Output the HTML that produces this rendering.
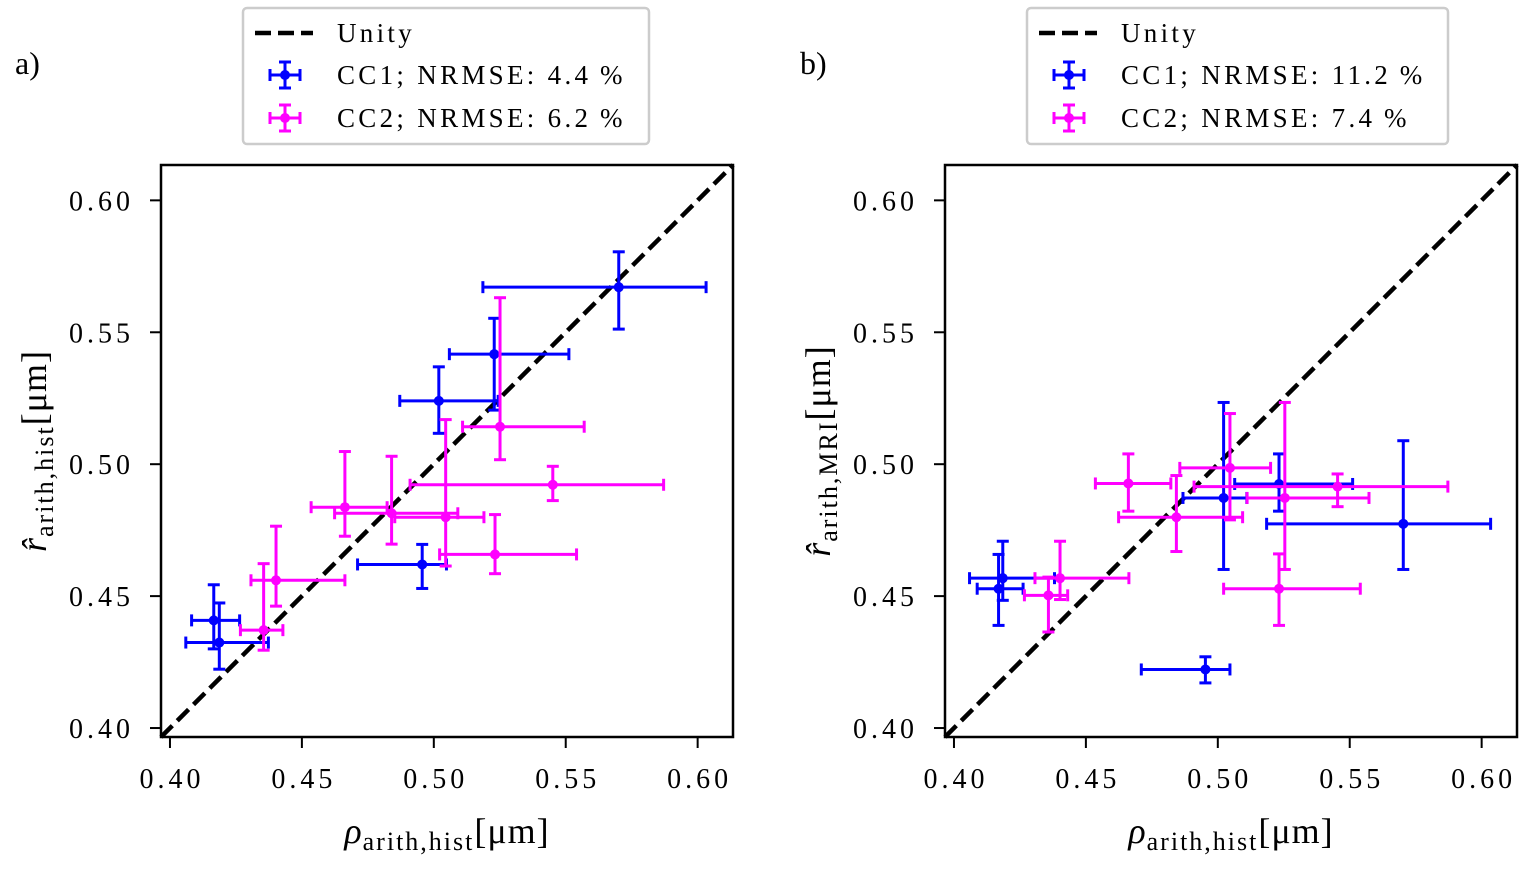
<!DOCTYPE html>
<html><head><meta charset="utf-8"><style>
body{margin:0;background:#fff;}
svg text{font-family:"Liberation Serif","DejaVu Serif",serif;fill:#000;}
</style></head><body>
<svg id="chart" width="1525" height="864" xmlns="http://www.w3.org/2000/svg"></svg>
<script>
// Panel a data: [x, y, xlo, xhi, ylo, yhi]
const aCC1 = [[0.5701,0.5671,0.5186,0.6032,0.5512,0.5805],[0.5229,0.5417,0.5059,0.5512,0.5205,0.5553],[0.5019,0.5240,0.4871,0.5244,0.5117,0.5369],[0.4956,0.4620,0.4711,0.5048,0.4529,0.4696],[0.4166,0.4408,0.4082,0.4264,0.4300,0.4543],[0.4187,0.4324,0.4060,0.4373,0.4223,0.4474]];
const aCC2 = [[0.5251,0.5142,0.5109,0.5570,0.5017,0.5631],[0.5451,0.4922,0.4910,0.5871,0.4862,0.4992],[0.4663,0.4837,0.4535,0.4823,0.4727,0.5048],[0.4840,0.4814,0.4624,0.5091,0.4697,0.5030],[0.5045,0.4799,0.4852,0.5190,0.4614,0.5169],[0.5232,0.4658,0.5022,0.5541,0.4585,0.4809],[0.4402,0.4560,0.4307,0.4663,0.4462,0.4765],[0.4355,0.4371,0.4267,0.4428,0.4295,0.4623]];
// Panel b data
const bCC1 = [[0.5022,0.4872,0.4868,0.5110,0.4601,0.5234],[0.5232,0.4925,0.5064,0.5511,0.4822,0.5039],[0.5703,0.4774,0.5185,0.6034,0.4601,0.5089],[0.4953,0.4222,0.4710,0.5046,0.4171,0.4270],[0.4185,0.4568,0.4059,0.4381,0.4484,0.4708],[0.4169,0.4528,0.4088,0.4262,0.4389,0.4658]];
const bCC2 = [[0.5046,0.4986,0.4856,0.5200,0.4789,0.5192],[0.4661,0.4927,0.4536,0.4822,0.4822,0.5039],[0.4843,0.4799,0.4624,0.5094,0.4669,0.4957],[0.5254,0.4872,0.5111,0.5573,0.4601,0.5234],[0.5454,0.4915,0.4910,0.5872,0.4839,0.4963],[0.5232,0.4528,0.5022,0.5540,0.4389,0.4660],[0.4402,0.4568,0.4307,0.4663,0.4487,0.4708],[0.4358,0.4503,0.4267,0.4431,0.4364,0.4572]];
const ticks = [0.40,0.45,0.50,0.55,0.60];
const tickLabels = ["0.40","0.45","0.50","0.55","0.60"];
const legA = ["Unity","CC1; NRMSE: 4.4\u2009%","CC2; NRMSE: 6.2\u2009%"];
const legB = ["Unity","CC1; NRMSE: 11.2\u2009%","CC2; NRMSE: 7.4\u2009%"];

const NS="http://www.w3.org/2000/svg";
const svg=document.getElementById('chart');
function mk(tag,attrs,parent){const e=document.createElementNS(NS,tag);for(const k in attrs)e.setAttribute(k,attrs[k]);(parent||svg).appendChild(e);return e;}
const VMIN=0.3966,VMAX=0.6134,SIZE=572,TOP=165;

function panel(ox,c1,c2,leg,letter,ylab,lx){
  const g=mk('g',{});
  
  
  const X=v=>ox+(v-VMIN)/(VMAX-VMIN)*SIZE;
  const Y=v=>TOP+SIZE-(v-VMIN)/(VMAX-VMIN)*SIZE;
  ticks.forEach((t,i)=>{
    const tx=mk('line',{x1:X(t),x2:X(t),y1:TOP+SIZE,y2:TOP+SIZE+11,stroke:'#000','stroke-width':2},g);
    
    
    const xl=mk('text',{x:X(t)+2,y:TOP+SIZE+51,'font-size':28,'letter-spacing':4,'text-anchor':'middle'},g);xl.textContent=tickLabels[i];
    
    
    const ty=mk('line',{x1:ox-11,x2:ox,y1:Y(t),y2:Y(t),stroke:'#000','stroke-width':2},g);
    
    
    const yl=mk('text',{x:ox-27,y:Y(t)+10,'font-size':28,'letter-spacing':4,'text-anchor':'end'},g);yl.textContent=tickLabels[i];
    
    
  });
  const u=mk('line',{x1:X(VMIN),y1:Y(VMIN),x2:X(VMAX),y2:Y(VMAX),stroke:'#000','stroke-width':4.5,'stroke-dasharray':'16,7'},g);
  
  
  function series(data,col,name){
    data.forEach(d=>{
      const s=mk('g',{stroke:col,'stroke-width':3,fill:col},g);
      
      
      const cx=X(d[0]),cy=Y(d[1]),x0=X(d[2]),x1=X(d[3]),y0=Y(d[4]),y1=Y(d[5]);
      mk('line',{x1:x0,x2:x1,y1:cy,y2:cy},s);
      mk('line',{x1:cx,x2:cx,y1:y0,y2:y1},s);
      [x0,x1].forEach(xx=>mk('line',{x1:xx,x2:xx,y1:cy-6,y2:cy+6},s));
      [y0,y1].forEach(yy=>mk('line',{x1:cx-6,x2:cx+6,y1:yy,y2:yy},s));
      mk('circle',{cx:cx,cy:cy,r:5,stroke:'none'},s);
    });
  }
  series(c1,'#0000ff','cc1');
  series(c2,'#ff00ff','cc2');
  const fr=mk('rect',{x:ox,y:TOP,width:SIZE,height:SIZE,fill:'none',stroke:'#000','stroke-width':2.5},g);
  
  
  const xt=mk('text',{x:ox+SIZE/2,y:843,'font-size':36,'letter-spacing':1,'text-anchor':'middle'},g);
  xt.innerHTML='<tspan font-style="italic">ρ</tspan><tspan font-size="26" dy="7" letter-spacing="2">arith,hist</tspan><tspan dy="-7">[μm]</tspan>';
  
  
  const yt=mk('text',{x:0,y:0,'font-size':36,'letter-spacing':1,'text-anchor':'middle',transform:`translate(${ox-115},${TOP+SIZE/2}) rotate(-90)`},g);
  yt.innerHTML='<tspan font-style="italic">r̂</tspan><tspan font-size="26" dy="7" letter-spacing="2">'+ylab+'</tspan><tspan dy="-7">[μm]</tspan>';
  
  
  const pl=mk('text',{x:lx,y:74,'font-size':32},g);pl.textContent=letter+')';
  
  
  const lg=mk('g',{},g);
  
  
  const bx=ox+82,bw=(letter==='a')?406:421;
  mk('rect',{x:bx,y:8,width:bw,height:136,rx:4,fill:'#fff',stroke:'#ccc','stroke-width':2.5},lg);
  const rows=[33,75,118];
  rows.forEach((ry,i)=>{
    const e=mk('g',{},lg);
    
    
    if(i===0){mk('line',{x1:bx+12,x2:bx+70,y1:ry,y2:ry,stroke:'#000','stroke-width':4.5,'stroke-dasharray':'16,7'},e);}
    else{const col=i===1?'#0000ff':'#ff00ff';const cx=bx+42;
      mk('line',{x1:cx-15,x2:cx+15,y1:ry,y2:ry,stroke:col,'stroke-width':3},e);
      mk('line',{x1:cx,x2:cx,y1:ry-13,y2:ry+13,stroke:col,'stroke-width':3},e);
      [cx-15,cx+15].forEach(xx=>mk('line',{x1:xx,x2:xx,y1:ry-6,y2:ry+6,stroke:col,'stroke-width':3},e));
      [ry-13,ry+13].forEach(yy=>mk('line',{x1:cx-6,x2:cx+6,y1:yy,y2:yy,stroke:col,'stroke-width':3},e));
      mk('circle',{cx:cx,cy:ry,r:5,fill:col},e);}
    const t=mk('text',{x:bx+94,y:ry+9,'font-size':27,'letter-spacing':3.3},e);t.textContent=leg[i];
  });
}
panel(161,aCC1,aCC2,legA,'a','arith,hist',15);
panel(945,bCC1,bCC2,legB,'b','arith,MRI',800);
</script>
</body></html>
